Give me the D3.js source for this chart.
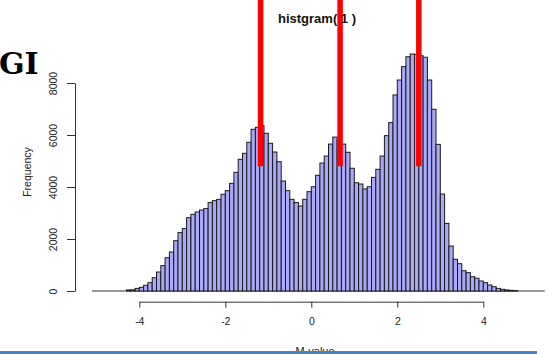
<!DOCTYPE html>
<html>
<head>
<meta charset="utf-8">
<script src="https://cdn.jsdelivr.net/npm/d3@7"></script>
<style>
  body { margin: 0; background: #fff; }
  svg { display: block; font-family: "Liberation Sans", Arial, sans-serif; }
</style>
</head>
<body>
<div id="chart"></div>
<script>
// histogram bins: left edge of each 0.1 wide bin and its count
const binStart = -4.3;
const binWidth = 0.1;
const counts = [
  40, 45, 100, 140, 220, 320, 510, 730, 975, 1280,
  1500, 1935, 2245, 2400, 2820, 2950, 3040, 3115, 3170, 3400,
  3475, 3525, 3720, 3860, 4140, 4565, 5065, 5295, 5720, 6220,
  6295, 6360, 6065, 5680, 5345, 4975, 4230, 3860, 3525, 3400,
  3270, 3525, 3820, 4010, 4450, 4920, 5190, 5650, 5920, 5800,
  5650, 5335, 4720, 4165, 4115, 3925, 4010, 4370, 4680, 5190,
  5975, 6475, 7540, 8115, 8630, 9010, 9115, 9100, 9050, 8990,
  8115, 6990, 5640, 3730, 2600, 1730, 1220, 1050, 780, 705,
  550, 490, 385, 320, 230, 165, 100, 65, 40, 25, 15
];
const xTicks = [-4, -2, 0, 2, 4];
const yTicks = [0, 2000, 4000, 6000, 8000];
const baseRange = [-5.1, 5.43];        // zero-count bins drawn as a flat line
const markers = [-1.18, 0.67, 2.5];    // red vertical markers
const markerRange = [4800, 11300];     // bottom/top of the markers, in counts
const title = 'histgram( 1 )';

const width = 548, height = 354;

const svg = d3.select('#chart')
  .append('svg')
  .attr('width', width)
  .attr('height', height);

const x = d3.scaleLinear().domain([-4, 4]).range([139.3, 483.3]);
const y = d3.scaleLinear().domain([0, 8000]).range([291, 83]);

const bins = counts.map((c, i) => ({
  x0: binStart + i * binWidth,
  x1: binStart + (i + 1) * binWidth,
  count: c
}));

// baseline of empty bins
svg.append('line')
  .attr('x1', x(baseRange[0]))
  .attr('x2', x(baseRange[1]))
  .attr('y1', y(0))
  .attr('y2', y(0))
  .attr('stroke', '#333')
  .attr('stroke-width', 1);

svg.append('g')
  .selectAll('rect')
  .data(bins)
  .join('rect')
  .attr('x', d => x(d.x0))
  .attr('width', d => x(d.x1) - x(d.x0))
  .attr('y', d => y(d.count))
  .attr('height', d => y(0) - y(d.count))
  .attr('fill', '#a9a9f7')
  .attr('stroke', '#1a1a1a')
  .attr('stroke-width', 1);

// red markers
svg.append('g')
  .selectAll('line')
  .data(markers)
  .join('line')
  .attr('x1', d => x(d))
  .attr('x2', d => x(d))
  .attr('y1', y(markerRange[0]))
  .attr('y2', y(markerRange[1]))
  .attr('stroke', '#ff0000')
  .attr('stroke-width', 5.5);

// axes (plain labels, hyphen minus, no thousands separator)
const fmt = d => String(d);

const xAxis = svg.append('g')
  .attr('transform', 'translate(0,301.7)')
  .call(d3.axisBottom(x).tickValues(xTicks).tickFormat(fmt)
    .tickSize(6).tickSizeOuter(0).tickPadding(10));
xAxis.selectAll('text').attr('font-size', 10.5).attr('fill', '#222').attr('font-family', null);

const yAxis = svg.append('g')
  .attr('transform', 'translate(75,0)')
  .call(d3.axisLeft(y).tickValues(yTicks).tickFormat(fmt)
    .tickSize(8).tickSizeOuter(0));
yAxis.selectAll('text')
  .attr('transform', 'rotate(-90)')
  .attr('x', 0)
  .attr('y', -18)
  .attr('dy', 0)
  .attr('text-anchor', 'middle')
  .attr('font-size', 10.5)
  .attr('fill', '#222')
  .attr('font-family', null);

[xAxis, yAxis].forEach(g => {
  g.selectAll('path, line').attr('stroke', '#333');
});

// labels
svg.append('text')
  .attr('x', 317)
  .attr('y', 23)
  .attr('text-anchor', 'middle')
  .attr('font-weight', 'bold')
  .attr('font-size', 13)
  .attr('fill', '#111')
  .text(title);

svg.append('text')
  .attr('transform', 'translate(31,172) rotate(-90)')
  .attr('text-anchor', 'middle')
  .attr('font-size', 10.5)
  .attr('fill', '#222')
  .text('Frequency');

svg.append('text')
  .attr('x', 315)
  .attr('y', 355)
  .attr('text-anchor', 'middle')
  .attr('font-size', 11)
  .attr('fill', '#222')
  .text('M-value');

svg.append('text')
  .attr('x', -1)
  .attr('y', 74)
  .attr('font-family', '"DejaVu Serif", serif')
  .attr('font-weight', 'bold')
  .attr('font-size', 30)
  .attr('fill', '#000')
  .text('GI');

svg.append('line')
  .attr('x1', 0)
  .attr('x2', 537)
  .attr('y1', 352.5)
  .attr('y2', 352.5)
  .attr('stroke', '#4f81bd')
  .attr('stroke-width', 3);
</script>
</body>
</html>
